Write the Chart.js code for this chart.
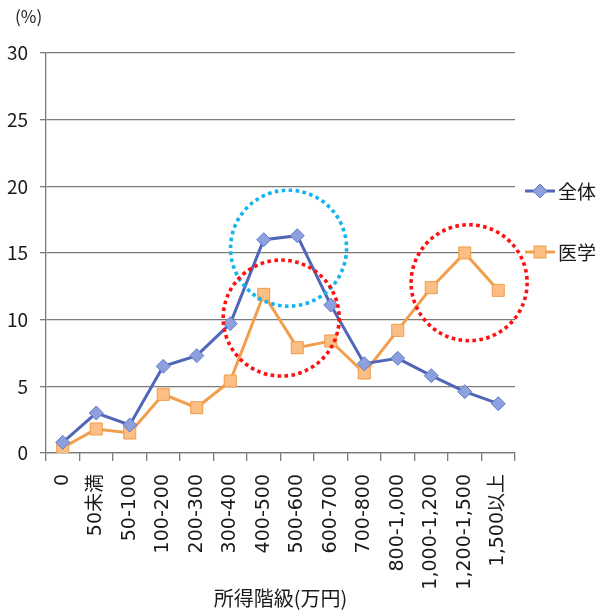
<!DOCTYPE html>
<html lang="ja">
<head>
<meta charset="utf-8">
<title>所得階級別の分布</title>
<script src="https://cdn.jsdelivr.net/npm/chart.js@4.4.1/dist/chart.umd.min.js"></script>
<style>
  html, body { margin: 0; padding: 0; background: #ffffff; }
  #wrap { width: 597px; height: 612px; position: relative; }
</style>
</head>
<body>
<div id="wrap"><canvas id="chart" width="597" height="612"></canvas></div>
<script>
// Income brackets (万円) and share of people in each bracket (%)
const categories = ['0', '50未満', '50-100', '100-200', '200-300', '300-400', '400-500',
  '500-600', '600-700', '700-800', '800-1,000', '1,000-1,200', '1,200-1,500', '1,500以上'];
const zentai = [0.8, 3.0, 2.1, 6.5, 7.3, 9.7, 16.0, 16.3, 11.1, 6.7, 7.1, 5.8, 4.6, 3.7];
const igaku  = [0.4, 1.8, 1.5, 4.4, 3.4, 5.4, 11.9, 7.9, 8.4, 6.0, 9.2, 12.4, 15.0, 12.2];
const seriesNames = ['全体', '医学'];
const yMin = 0, yMax = 30, yStep = 5;

// Dotted rings that highlight parts of the curves (category position, value)
const highlights = [
  { at: 6.74, value: 15.36, color: '#14B4EC' },
  { at: 6.52, value: 10.12, color: '#FF1010' },
  { at: 12.13, value: 12.77, color: '#FF1010' }
];

const FONT = '"Noto Sans CJK JP", "Noto Sans", sans-serif';
const TICK_FONT = '"DejaVu Sans", "Noto Sans CJK JP", sans-serif';
const TEXT = '#1a1a1a';
const GRID = '#7a7a7a';

const ringPlugin = {
  id: 'rings',
  afterDatasetsDraw(chart) {
    const { ctx, scales: { x, y } } = chart;
    const step = x.getPixelForValue(1) - x.getPixelForValue(0);
    ctx.save();
    ctx.lineWidth = 3.6;
    ctx.setLineDash([3.6, 3.4]);
    ctx.lineCap = 'butt';
    highlights.forEach(h => {
      const cx = x.getPixelForValue(0) + h.at * step;
      const cy = y.getPixelForValue(h.value);
      ctx.strokeStyle = h.color;
      ctx.beginPath();
      ctx.arc(cx, cy, 58, 0, Math.PI * 2);
      ctx.stroke();
    });
    ctx.restore();
  }
};

// Legend at the right: a short line with the series marker, then its name
const sideLegend = {
  id: 'sideLegend',
  afterDraw(chart) {
    const { ctx } = chart;
    const rows = [191, 252];
    const mx = 540;
    ctx.save();
    chart.data.datasets.forEach((ds, i) => {
      const yy = rows[i];
      ctx.strokeStyle = ds.borderColor;
      ctx.lineWidth = 3;
      ctx.setLineDash([]);
      ctx.beginPath();
      ctx.moveTo(525, yy);
      ctx.lineTo(555, yy);
      ctx.stroke();
      ctx.fillStyle = ds.pointBackgroundColor;
      ctx.strokeStyle = ds.pointBorderColor;
      ctx.lineWidth = ds.pointBorderWidth;
      ctx.beginPath();
      if (ds.pointStyle === 'rectRot') {
        const r = ds.pointRadius;
        ctx.moveTo(mx, yy - r); ctx.lineTo(mx + r, yy); ctx.lineTo(mx, yy + r); ctx.lineTo(mx - r, yy);
        ctx.closePath();
      } else {
        const s = ds.pointRadius * Math.SQRT1_2;
        ctx.rect(mx - s, yy - s, 2 * s, 2 * s);
      }
      ctx.fill();
      ctx.stroke();
      ctx.fillStyle = TEXT;
      ctx.font = '19px ' + FONT;
      ctx.textBaseline = 'middle';
      ctx.textAlign = 'left';
      ctx.fillText(ds.label, 558, yy + 1);
    });
    // unit label above the value axis
    ctx.font = '17px ' + FONT;
    ctx.textBaseline = 'middle';
    ctx.textAlign = 'left';
    ctx.fillText('(%)', 15, 17);
    ctx.restore();
  }
};

new Chart(document.getElementById('chart'), {
  type: 'line',
  data: {
    labels: categories,
    datasets: [
      {
        label: seriesNames[0],
        data: zentai,
        borderColor: '#5066B9',
        borderWidth: 3,
        pointStyle: 'rectRot',
        pointRadius: 7,
        pointHoverRadius: 7,
        pointBackgroundColor: '#8DA0DD',
        pointBorderColor: '#6379C9',
        pointBorderWidth: 1,
        tension: 0
      },
      {
        label: seriesNames[1],
        data: igaku,
        borderColor: '#F29E4C',
        borderWidth: 3,
        pointStyle: 'rect',
        pointRadius: 8.5,
        pointHoverRadius: 8.5,
        pointBackgroundColor: '#FBBF85',
        pointBorderColor: '#EF9B48',
        pointBorderWidth: 1,
        tension: 0
      }
    ]
  },
  options: {
    responsive: false,
    animation: false,
    events: [],
    layout: { padding: { top: 53, right: 82, left: 0, bottom: 0 } },
    plugins: {
      legend: { display: false },
      tooltip: { enabled: false }
    },
    scales: {
      x: {
        type: 'category',
        offset: true,
        grid: {
          offset: true,
          drawOnChartArea: false,
          drawTicks: true,
          tickLength: 8,
          color: GRID,
          lineWidth: 1.3
        },
        border: { display: true, color: GRID, width: 1.3 },
        ticks: {
          minRotation: 90,
          maxRotation: 90,
          autoSkip: false,
          padding: 13,
          color: TEXT,
          font: { family: TICK_FONT, size: 19 }
        },
        title: {
          display: true,
          text: '所得階級(万円)',
          color: TEXT,
          font: { family: FONT, size: 20 },
          padding: { top: 0, bottom: 2 }
        },
        afterFit(scale) { scale.height = 159; }
      },
      y: {
        min: yMin,
        max: yMax,
        grid: {
          color: GRID,
          lineWidth: 1.3,
          drawTicks: true,
          tickLength: 6
        },
        border: { display: true, color: GRID, width: 1.3 },
        ticks: {
          stepSize: yStep,
          padding: 12,
          color: TEXT,
          font: { family: FONT, size: 19 }
        },
        afterFit(scale) { scale.width = 46; }
      }
    }
  },
  plugins: [ringPlugin, sideLegend]
});
</script>
</body>
</html>
